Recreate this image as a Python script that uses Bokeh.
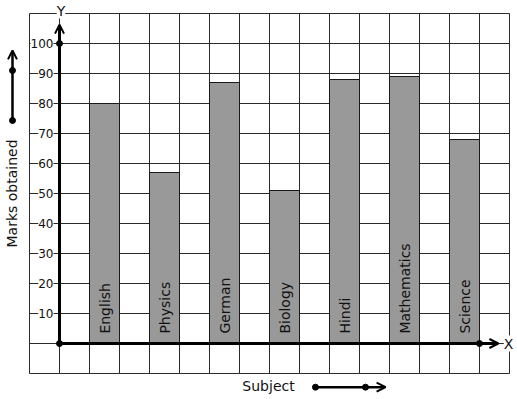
from bokeh.plotting import figure
from bokeh.models import Range1d, Arrow, OpenHead
from bokeh.core.properties import value
from bokeh.embed import file_html
from bokeh.resources import INLINE
import math

subjects = ["English", "Physics", "German", "Biology", "Hindi", "Mathematics", "Science"]
marks = [80, 57, 87, 51, 88, 89, 68]
y_ticks = [10, 20, 30, 40, 50, 60, 70, 80, 90, 100]
y_tick_labels = [str(t) for t in y_ticks]
x_label = "Subject"
y_label = "Marks obtained"

FONT = value("DejaVu Sans")
W, H = 517, 399
# 1 grid column = 30 px, 10 marks = 30 px; origin at pixel (59, 343)
p = figure(width=W, height=H, output_backend="svg", toolbar_location=None,
           x_range=Range1d(-59 / 30, (W - 59) / 30),
           y_range=Range1d(-(H - 343) / 3, 343 / 3),
           min_border=0, min_border_left=0, min_border_right=0,
           min_border_top=0, min_border_bottom=0)
p.axis.visible = False
p.grid.visible = False
p.outline_line_color = None
p.background_fill_color = "white"
p.border_fill_color = "white"

# graph-paper grid
gx = list(range(-1, 16))
gy = list(range(-10, 111, 10))
grid_col = "#2a2a2a"
p.segment(x0=gx, y0=[-10] * len(gx), x1=gx, y1=[110] * len(gx), line_color=grid_col, line_width=1)
p.segment(x0=[-1] * len(gy), y0=gy, x1=[15] * len(gy), y1=gy, line_color=grid_col, line_width=1)

# bars
xc = [2 * i + 1.5 for i in range(len(subjects))]
p.vbar(x=xc, top=marks, bottom=0, width=1, fill_color="#999999", line_color="#1a1a1a", line_width=1)

# bar labels (vertical)
p.text(x=xc, y=[3.3] * len(xc), text=subjects, angle=math.pi / 2, text_align="left",
       text_baseline="middle", text_font=FONT, text_font_size="14px", text_color="#111111")

# axes
p.add_layout(Arrow(end=OpenHead(size=9, line_width=2), x_start=0, y_start=0, x_end=0, y_end=106.3,
                   line_width=3, line_color="black"))
p.add_layout(Arrow(end=OpenHead(size=9, line_width=2), x_start=0, y_start=0, x_end=14.63, y_end=0,
                   line_width=3, line_color="black"))
p.scatter(x=[0, 0, 14], y=[0, 100, 0], size=6, color="black")

# y tick labels with white background
p.text(x=[-0.2] * len(y_ticks), y=y_ticks, text=y_tick_labels, text_align="right",
       text_baseline="middle", text_font=FONT, text_font_size="12px", text_color="#111111",
       background_fill_color="white", padding=0)

# axis letters
p.text(x=[0.05], y=[111], text=["Y"], text_align="center", text_baseline="middle",
       text_font=FONT, text_font_size="14px", text_color="#111111", background_fill_color="white")
p.text(x=[14.97], y=[0], text=["X"], text_align="center", text_baseline="middle",
       text_font=FONT, text_font_size="14px", text_color="#111111", background_fill_color="white")

# axis titles
p.text(x=[-1.567], y=[50], text=[y_label], angle=math.pi / 2, text_align="center",
       text_baseline="middle", text_font=FONT, text_font_size="14px", text_color="#111111")
p.text(x=[6.967], y=[-14], text=[x_label], text_align="center", text_baseline="middle",
       text_font=FONT, text_font_size="14px", text_color="#111111")

# direction arrows
p.add_layout(Arrow(end=OpenHead(size=9, line_width=2), x_start=-1.567, y_start=74.33, x_end=-1.567, y_end=97.7,
                   line_width=2.5, line_color="black"))
p.scatter(x=[-1.567, -1.567], y=[74.33, 91], size=6, color="black")
p.add_layout(Arrow(end=OpenHead(size=9, line_width=2), x_start=8.533, y_start=-14.56, x_end=10.87, y_end=-14.56,
                   line_width=2.5, line_color="black"))
p.scatter(x=[8.533, 10.2], y=[-14.56, -14.56], size=6, color="black")

open("out.html", "w").write(file_html(p, INLINE))
